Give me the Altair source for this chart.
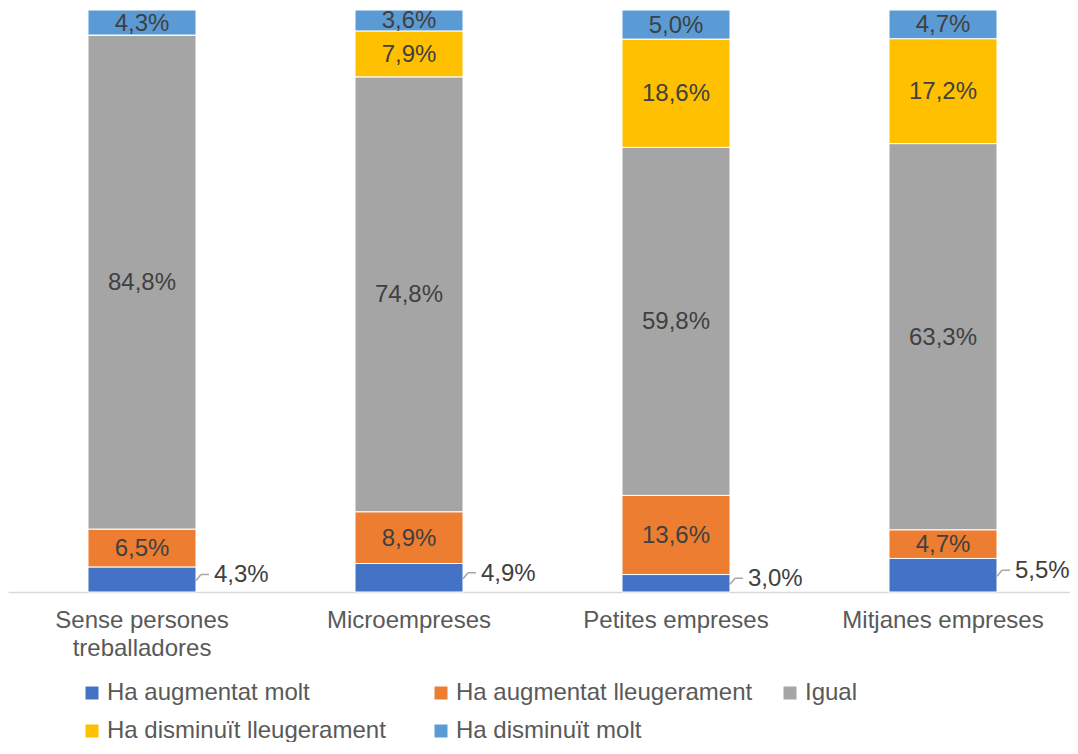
import altair as alt
import pandas as pd

categories = ["Sense persones treballadores", "Microempreses", "Petites empreses", "Mitjanes empreses"]
series = ["Ha augmentat molt", "Ha augmentat lleugerament", "Igual",
          "Ha disminuït lleugerament", "Ha disminuït molt"]
colors = ["#4472C4", "#ED7D31", "#A5A5A5", "#FFC000", "#5B9BD5"]

augmentat_molt = [4.3, 4.9, 3.0, 5.5]
augmentat_lleugerament = [6.5, 8.9, 13.6, 4.7]
igual = [84.8, 74.8, 59.8, 63.3]
disminuit_lleugerament = [0.0, 7.9, 18.6, 17.2]
disminuit_molt = [4.3, 3.6, 5.0, 4.7]

values = [augmentat_molt, augmentat_lleugerament, igual, disminuit_lleugerament, disminuit_molt]
rows = []
for si, (s, vals) in enumerate(zip(series, values)):
    for c, v in zip(categories, vals):
        rows.append({"cat": c, "series": s, "order": si, "value": v})
df = pd.DataFrame(rows)

FONT = "Liberation Sans"
FS = 24

base = (
    alt.Chart(df)
    .transform_joinaggregate(total="sum(value)", groupby=["cat"])
    .transform_calculate(pct="datum.value / datum.total")
    .transform_stack(stack="pct", groupby=["cat"], as_=["y0", "y1"],
                     sort=[alt.SortField("order", order="ascending")])
    .transform_calculate(
        mid="(datum.y0 + datum.y1) / 2",
        label="replace(format(datum.value, '.1f'), '.', ',') + '%'",
    )
)

xenc = alt.X(
    "cat:N",
    sort=categories,
    scale=alt.Scale(paddingInner=0.5955, paddingOuter=0.2865, align=0.5229),
    axis=alt.Axis(
        title=None, labelAngle=0, ticks=False, domainColor="#D9D9D9", domainWidth=1.5,
        labelFontSize=FS, labelColor="#595959", labelFont=FONT, labelPadding=16,
        labelLimit=400, labelLineHeight=28,
        labelExpr="datum.value == 'Sense persones treballadores' ? ['Sense persones', 'treballadores'] : datum.label",
    ),
)
yscale = alt.Scale(domain=[0, 1])

bars = base.mark_bar(stroke="white", strokeWidth=1).encode(
    x=xenc,
    y=alt.Y("y0:Q", scale=yscale, axis=None),
    y2="y1",
    color=alt.Color(
        "series:N",
        sort=series,
        scale=alt.Scale(domain=series, range=colors),
        legend=alt.Legend(
            title=None, orient="none", legendX=72, legendY=671, columns=3,
            direction="horizontal", gridAlign="all", columnPadding=25, rowPadding=14,
            symbolType="square", symbolSize=169, symbolStrokeWidth=0, labelOffset=3,
            labelFontSize=FS, labelFont=FONT, labelColor="#595959", labelLimit=500,
            padding=0,
        ),
    ),
    order=alt.Order("order:Q"),
)

inner = base.transform_filter("datum.order > 0 && datum.value > 0").mark_text(
    fontSize=FS, font=FONT, color="#404040", dy=1
).encode(
    x=alt.X("cat:N", sort=categories),
    y=alt.Y("mid:Q", scale=yscale),
    text="label:N",
)

outer = base.transform_filter("datum.order == 0").mark_text(
    fontSize=FS, font=FONT, color="#404040", align="left", dx=72, dy=-4
).encode(
    x=alt.X("cat:N", sort=categories),
    y=alt.Y("mid:Q", scale=yscale),
    text="label:N",
)

lead_diag = base.transform_filter("datum.order == 0").mark_rule(
    color="#A6A6A6", strokeWidth=1.5, xOffset=54, x2Offset=59, yOffset=1, y2Offset=-5
).encode(
    x=alt.X("cat:N", sort=categories),
    x2="cat:N",
    y=alt.Y("mid:Q", scale=yscale),
    y2="mid:Q",
)

lead_h = base.transform_filter("datum.order == 0").mark_rule(
    color="#A6A6A6", strokeWidth=1.5, xOffset=59, x2Offset=67, yOffset=-5, y2Offset=-5
).encode(
    x=alt.X("cat:N", sort=categories),
    x2="cat:N",
    y=alt.Y("mid:Q", scale=yscale),
    y2="mid:Q",
)

chart = (
    alt.layer(bars, inner, lead_diag, lead_h, outer)
    .properties(
        width=1062, height=582,
        padding={"left": 0, "top": 2, "right": 0, "bottom": 150},
        autosize=alt.AutoSizeParams(type="none"),
    )
    .configure_view(strokeWidth=0)
)

chart.save("out.html", embed_options={"renderer": "svg", "actions": False})
